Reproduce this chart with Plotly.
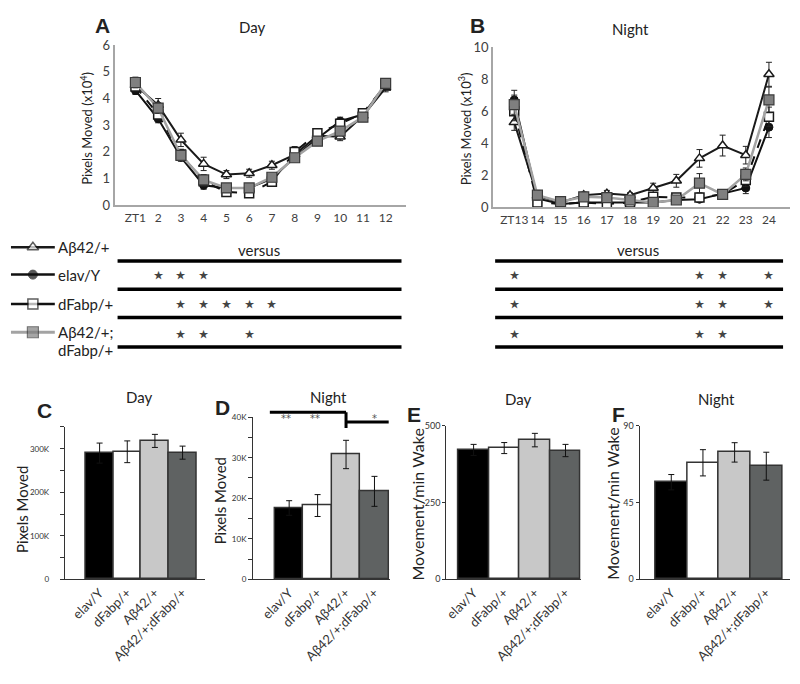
import plotly.graph_objects as go

W, H = 800, 684
FONT = "Lato"

# ---------------- data ----------------
day_zt = ["ZT1", "2", "3", "4", "5", "6", "7", "8", "9", "10", "11", "12"]
night_zt = ["ZT13", "14", "15", "16", "17", "18", "19", "20", "21", "22", "23", "24"]

day_ab42 = [4.5, 3.75, 2.45, 1.55, 1.15, 1.2, 1.5, 1.9, 2.6, 2.57, 3.35, 4.4]
day_ab42_err = [0.2, 0.25, 0.25, 0.25, 0.15, 0.15, 0.15, 0.2, 0.2, 0.15, 0.15, 0.15]
day_elav = [4.3, 3.24, 1.8, 0.75, 0.65, 0.65, 1.0, 1.8, 2.5, 3.15, 3.4, 4.5]
day_elav_err = [0.15, 0.15, 0.15, 0.15, 0.1, 0.1, 0.15, 0.15, 0.15, 0.15, 0.15, 0.15]
day_dfabp = [4.45, 3.4, 1.9, 0.9, 0.5, 0.45, 0.88, 2.0, 2.7, 3.05, 3.45, 4.5]
day_dfabp_err = [0.2, 0.2, 0.2, 0.2, 0.1, 0.1, 0.15, 0.2, 0.15, 0.15, 0.15, 0.15]
day_double = [4.6, 3.64, 1.87, 0.95, 0.65, 0.65, 1.05, 1.78, 2.4, 2.78, 3.3, 4.57]
day_double_err = [0.2, 0.2, 0.2, 0.2, 0.1, 0.1, 0.15, 0.15, 0.15, 0.15, 0.15, 0.15]

night_ab42 = [5.3, 0.7, 0.3, 0.75, 0.85, 0.75, 1.2, 1.65, 3.05, 3.85, 3.25, 8.3]
night_ab42_err = [0.5, 0.3, 0.1, 0.2, 0.2, 0.15, 0.3, 0.4, 0.55, 0.65, 0.55, 0.75]
night_elav = [6.7, 0.55, 0.2, 0.3, 0.3, 0.3, 0.3, 0.45, 0.5, 0.85, 1.2, 5.0]
night_elav_err = [0.6, 0.2, 0.05, 0.1, 0.1, 0.1, 0.1, 0.1, 0.1, 0.15, 0.35, 0.65]
night_dfabp = [6.0, 0.3, 0.2, 0.3, 0.2, 0.3, 0.65, 0.6, 0.6, 0.8, 1.7, 5.65]
night_dfabp_err = [0.6, 0.1, 0.05, 0.1, 0.1, 0.1, 0.2, 0.15, 0.15, 0.15, 0.4, 0.6]
night_double = [6.4, 0.75, 0.35, 0.65, 0.6, 0.45, 0.3, 0.45, 1.5, 0.8, 2.05, 6.7]
night_double_err = [0.6, 0.3, 0.1, 0.2, 0.2, 0.2, 0.1, 0.15, 0.6, 0.2, 0.4, 0.8]

# significance (versus Aβ42/+)
day_sig_elav = ["2", "3", "4"]
day_sig_dfabp = ["3", "4", "5", "6", "7"]
day_sig_double = ["3", "4", "6"]
night_sig_elav = ["ZT13", "21", "22", "24"]
night_sig_dfabp = ["ZT13", "21", "22", "24"]
night_sig_double = ["ZT13", "21", "22"]

groups = ["elav/Y", "dFabp/+", "Aβ42/+", "Aβ42/+;dFabp/+"]
c_vals = [290000, 293000, 318000, 291000]
c_err = [23000, 25000, 15000, 15000]
d_vals = [17600, 18200, 30800, 21700]
d_err = [1800, 2700, 3500, 3700]
e_vals = [422, 428, 454, 420]
e_err = [18, 18, 22, 20]
f_vals = [57, 68.4, 74.5, 66.4]
f_err = [4.5, 7.7, 5.7, 8.2]
bar_colors = ["#000000", "#ffffff", "#c8c8c8", "#5f6262"]


def px(x):
    return x / W


def py(y):
    return 1 - y / H


fig = go.Figure()

# ---------------- line panels ----------------
series_style = [
    dict(name="Aβ42/+", line=dict(color="#1a1a1a", width=2),
         marker=dict(symbol="triangle-up", size=9, color="white", line=dict(color="#1a1a1a", width=1.5))),
    dict(name="elav/Y", line=dict(color="#111111", width=2),
         marker=dict(symbol="circle", size=8, color="#111111", line=dict(color="#111111", width=1))),
    dict(name="dFabp/+", line=dict(color="#111111", width=2, dash="dash"),
         marker=dict(symbol="square", size=9, color="white", line=dict(color="#1a1a1a", width=1.5))),
    dict(name="Aβ42/+;dFabp/+", line=dict(color="#a3a3a3", width=2.5),
         marker=dict(symbol="square", size=10, color="#7f7f7f", line=dict(color="#3a3a3a", width=1.2))),
]
day_sets = [(day_ab42, day_ab42_err), (day_elav, day_elav_err), (day_dfabp, day_dfabp_err), (day_double, day_double_err)]
night_sets = [(night_ab42, night_ab42_err), (night_elav, night_elav_err), (night_dfabp, night_dfabp_err), (night_double, night_double_err)]

for (vals, errs), st in zip(day_sets, series_style):
    fig.add_trace(go.Scatter(x=day_zt, y=vals, mode="lines+markers", line=st["line"], marker=st["marker"],
                             error_y=dict(type="data", array=errs, color="#222222", thickness=1, width=3),
                             xaxis="x", yaxis="y", showlegend=False))
for (vals, errs), st in zip(night_sets, series_style):
    fig.add_trace(go.Scatter(x=night_zt, y=vals, mode="lines+markers", line=st["line"], marker=st["marker"],
                             error_y=dict(type="data", array=errs, color="#222222", thickness=1, width=3),
                             xaxis="x2", yaxis="y2", showlegend=False))

# ---------------- bar panels ----------------
for vals, errs, ax in [(c_vals, c_err, "3"), (d_vals, d_err, "4"), (e_vals, e_err, "5"), (f_vals, f_err, "6")]:
    fig.add_trace(go.Bar(x=groups, y=vals, marker=dict(color=bar_colors, line=dict(color="#333333", width=1.5)),
                         error_y=dict(type="data", array=errs, color="#111111", thickness=1, width=3),
                         xaxis="x" + ax, yaxis="y" + ax, showlegend=False))

# ---------------- legend glyphs (overlay axis in pixel units) ----------------
leg_rows = [245, 273, 303, 332]
for yrow, st in zip(leg_rows, series_style):
    m = dict(st["marker"])
    m["size"] = [0, m["size"] + 1, 0]
    ln = dict(st["line"])
    ln["dash"] = "solid"
    ln["width"] = 2.5 if st["name"] != "Aβ42/+;dFabp/+" else 3
    fig.add_trace(go.Scatter(x=[8, 30, 52], y=[yrow] * 3, mode="lines+markers", line=ln, marker=m,
                             xaxis="x7", yaxis="y7", showlegend=False, hoverinfo="skip"))

line_ax = dict(showline=True, linecolor="#a6a6a6", linewidth=2, ticks="", showgrid=False, zeroline=False,
               tickfont=dict(size=12, color="#404040", family=FONT))
bar_x = dict(showline=True, linecolor="#333333", linewidth=1, ticks="", showgrid=False, zeroline=False,
             tickangle=-45, tickfont=dict(size=13, color="#333333", family=FONT))
bar_y = dict(showline=True, linecolor="#333333", linewidth=1, ticks="outside", ticklen=4, tickcolor="#333333",
             showgrid=False, zeroline=False, tickfont=dict(size=9, color="#333333", family=FONT))

fig.update_layout(
    width=W, height=H, margin=dict(l=0, r=0, t=0, b=0),
    paper_bgcolor="white", plot_bgcolor="rgba(0,0,0,0)", bargap=0,
    font=dict(family=FONT, color="#222222"),
    xaxis=dict(line_ax, domain=[px(112), px(405)], anchor="y", type="category", tickangle=0),
    yaxis=dict(line_ax, domain=[py(202), py(38)], anchor="x", range=[0, 6], tickvals=[0, 1, 2, 3, 4, 5, 6],
               tickfont=dict(size=13, color="#404040", family=FONT)),
    xaxis2=dict(line_ax, domain=[px(492), px(790)], anchor="y2", type="category", tickangle=0),
    yaxis2=dict(line_ax, domain=[py(204), py(40)], anchor="x2", range=[0, 10], tickvals=[0, 2, 4, 6, 8, 10],
                tickfont=dict(size=13, color="#404040", family=FONT)),
    xaxis3=dict(bar_x, domain=[px(62), px(203)], anchor="y3", range=[-1.26, 3.82]),
    yaxis3=dict(bar_y, domain=[py(585), py(429)], anchor="x3", range=[0, 350000], ticklabelstandoff=9,
                tickfont=dict(size=8, color="#333333", family=FONT),
                tickvals=[i * 50000 for i in range(8)], ticktext=["0", "", "100K", "", "200K", "", "300K", ""]),
    xaxis4=dict(bar_x, domain=[px(251), px(388)], anchor="y4", range=[-1.27, 3.53]),
    yaxis4=dict(bar_y, domain=[py(585), py(419)], anchor="x4", range=[0, 40000],
                tickfont=dict(size=8, color="#333333", family=FONT),
                tickvals=[i * 5000 for i in range(9)], ticktext=["0", "", "10K", "", "20K", "", "30K", "", "40K"]),
    xaxis5=dict(bar_x, domain=[px(445), px(580)], anchor="y5", range=[-0.89, 3.5]),
    yaxis5=dict(bar_y, domain=[py(585), py(428)], anchor="x5", range=[0, 500], tickvals=[0, 250, 500], ticklen=3),
    xaxis6=dict(bar_x, domain=[px(639), px(790)], anchor="y6", range=[-1.0, 3.75]),
    yaxis6=dict(bar_y, domain=[py(585), py(428)], anchor="x6", range=[0, 90], tickvals=[0, 45, 90], ticklen=3),
    xaxis7=dict(domain=[0, 1], range=[0, W], visible=False, anchor="y7"),
    yaxis7=dict(domain=[0, 1], range=[H, 0], visible=False, anchor="x7"),
)

ann = []


def text(x, y, s, size, bold=False, color="#222222", angle=0, xanchor="center", family=FONT):
    ann.append(dict(x=px(x), y=py(y), xref="paper", yref="paper", text=("<b>%s</b>" % s) if bold else s,
                    showarrow=False, font=dict(size=size, color=color, family=family),
                    xanchor=xanchor, yanchor="middle", textangle=angle))


# panel letters and titles
text(100, 18, "A", 21, bold=True, family="Liberation Sans")
text(476, 18, "B", 21, bold=True, family="Liberation Sans")
text(250, 19, "Day", 15)
text(630, 22, "Night", 15)
text(42, 412, "C", 21, bold=True, family="Liberation Sans")
text(220, 409, "D", 21, bold=True, family="Liberation Sans")
text(413, 416, "E", 21, bold=True, family="Liberation Sans")
text(618, 416, "F", 21, bold=True, family="Liberation Sans")
text(137, 398, "Day", 15)
text(327, 398, "Night", 15)
text(517, 400, "Day", 15)
text(716, 400, "Night", 15)

# y-axis titles
text(83, 123, "Pixels Moved (x10<sup>4</sup>)", 13, angle=-90)
text(463, 124, "Pixels Moved (x10<sup>3</sup>)", 13, angle=-90)
text(19, 513, "Pixels Moved", 15, angle=-90)
text(218, 505, "Pixels Moved", 15, angle=-90)
text(416, 508, "Movement/min Wake", 16, angle=-90)
text(611, 508, "Movement/min Wake", 16, angle=-90)

# legend texts
text(53, 245, "Aβ42/+", 15, xanchor="left")
text(53, 273, "elav/Y", 15, xanchor="left")
text(53, 303, "dFabp/+", 15, xanchor="left")
text(53, 332, "Aβ42/+;", 15, xanchor="left")
text(53, 350, "dFabp/+", 15, xanchor="left")
text(257, 248, "versus", 15)
text(637, 248, "versus", 15)

# significance stars placed on the ZT category scales (category index positions)
star_rows = [273, 303, 334]
for row_y, cats in zip(star_rows, [day_sig_elav, day_sig_dfabp, day_sig_double]):
    for c in cats:
        ann.append(dict(x=day_zt.index(c), y=py(row_y), xref="x", yref="paper", text="⋆", showarrow=False,
                        font=dict(size=24, color="#444444", family="DejaVu Sans"), yanchor="middle"))
for row_y, cats in zip(star_rows, [night_sig_elav, night_sig_dfabp, night_sig_double]):
    for c in cats:
        ann.append(dict(x=night_zt.index(c), y=py(row_y), xref="x2", yref="paper", text="⋆", showarrow=False,
                        font=dict(size=24, color="#444444", family="DejaVu Sans"), yanchor="middle"))

# D significance marks
for xc, s in [(-0.1, "**"), (0.9, "**"), (3.0, "*")]:
    ann.append(dict(x=xc, y=py(420), xref="x4", yref="paper", text=s, showarrow=False,
                    font=dict(size=10, color="#555555", family="DejaVu Sans"), yanchor="middle"))

shapes = []
for yl in [259, 288, 317, 347]:
    shapes.append(dict(type="line", xref="paper", yref="paper", x0=px(115), x1=px(400), y0=py(yl), y1=py(yl),
                       line=dict(color="black", width=3.5)))
    shapes.append(dict(type="line", xref="paper", yref="paper", x0=px(494), x1=px(783), y0=py(yl), y1=py(yl),
                       line=dict(color="black", width=3.5)))
# D bracket lines
shapes.append(dict(type="line", xref="x4", yref="paper", x0=-0.68, x1=2, y0=py(414), y1=py(414),
                   line=dict(color="black", width=3)))
shapes.append(dict(type="line", xref="x4", yref="paper", x0=2, x1=2, y0=py(414), y1=py(430),
                   line=dict(color="black", width=3)))
shapes.append(dict(type="line", xref="x4", yref="paper", x0=2, x1=3.5, y0=py(424), y1=py(424),
                   line=dict(color="black", width=3)))

fig.update_layout(annotations=ann, shapes=shapes)
fig.write_html("out.html", config={"displayModeBar": False},
               post_script="document.body.style.margin='0px';")
